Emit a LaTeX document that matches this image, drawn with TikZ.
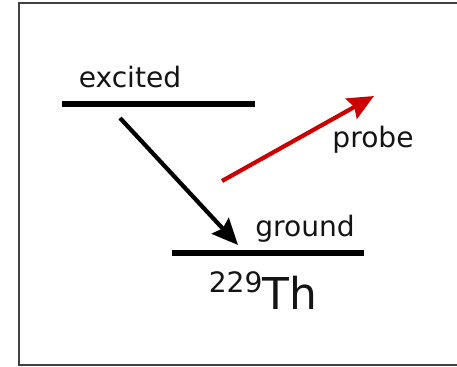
\documentclass[tikz,border=0pt]{standalone}
\usepackage{fontspec}
\setmainfont{DejaVu Sans}
\usetikzlibrary{arrows.meta, positioning}
\definecolor{rojoSonda}{HTML}{CC0000}
\definecolor{grisMarco}{HTML}{404040}
\definecolor{grisTexto}{HTML}{141414}
\tikzset{
  lineaNivel/.style={line width=3pt, black},
  flechaNegra/.style={-{Stealth[length=0.52cm, width=0.46cm, inset=0.07cm]}, line width=2.4pt, black},
  flechaSonda/.style={-{Stealth[length=0.52cm, width=0.46cm, inset=0.07cm]}, line width=2.4pt, rojoSonda},
  etiqueta/.style={font=\fontsize{16}{19}\selectfont, text=grisTexto, inner sep=0pt, anchor=base},
  marco/.style={line width=1.2pt, grisMarco},
}
\begin{document}
\begin{tikzpicture}[x=0.02cm, y=-0.02cm]
    \useasboundingbox (0,0) rectangle (457,367);
    % Marco
    \draw[marco] (460,3) -- (19,3) -- (19,365) -- (460,365);

    % Niveles
    \coordinate (exIzq) at (62,104);  \coordinate (exDer) at (255,104);
    \coordinate (gdIzq) at (172,253); \coordinate (gdDer) at (364,253);
    \draw[lineaNivel] (exIzq) -- (exDer);
    \draw[lineaNivel] (gdIzq) -- (gdDer);
    \node[etiqueta] (excited) at (130,88) {excited};
    \node[etiqueta] (ground) at (305,237) {ground};
    \node[etiqueta] (probe) at (373,148) {probe};
    \node[etiqueta, anchor=base, text=grisTexto] (torio) at (263,310)
      {\raisebox{9.7pt}{\fontsize{16}{16}\selectfont 229}\fontsize{25}{25}\selectfont Th};

    % Flechas
    \coordinate (decIni) at (120,118); \coordinate (decFin) at (238,245);
    \coordinate (sonIni) at (222,181); \coordinate (sonFin) at (374,96);
    \draw[flechaNegra] (decIni) -- (decFin);
    \draw[flechaSonda] (sonIni) -- (sonFin);
  \end{tikzpicture}
\end{document}
